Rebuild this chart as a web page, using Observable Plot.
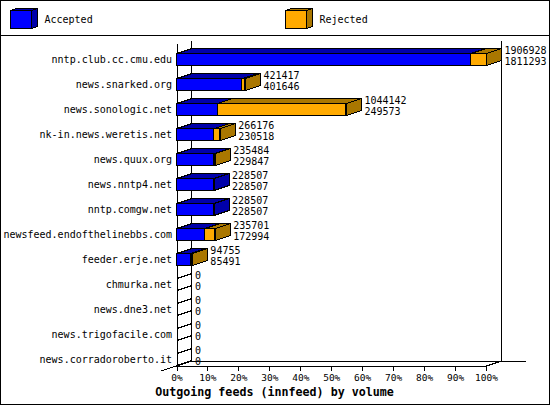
<!DOCTYPE html>
<html>
<head>
<meta charset="utf-8">
<script src="https://cdn.jsdelivr.net/npm/d3@7"></script>
<script src="https://cdn.jsdelivr.net/npm/@observablehq/plot@0.6"></script>
<style>
html,body{margin:0;padding:0;background:#fff}
#frame{position:relative;box-sizing:border-box;width:550px;height:405px;border:1px solid #000;overflow:hidden;font-family:"DejaVu Sans Mono","Liberation Mono",monospace;color:#000}
#legend{position:relative;height:34px;border-bottom:1px solid #000}
#legend span{position:absolute;top:12px;font-size:10px;line-height:14px}
#legend svg{position:absolute;top:7px;shape-rendering:crispEdges}
#chart svg{display:block;shape-rendering:crispEdges}
#title{position:absolute;left:0;width:547px;top:383px;text-align:center;font-weight:bold;font-size:11.67px;line-height:16px}
</style>
</head>
<body>
<div id="frame">
  <div id="legend"></div>
  <div id="chart"></div>
  <div id="title"></div>
</div>
<script>
const hosts = ["nntp.club.cc.cmu.edu","news.snarked.org","news.sonologic.net","nk-in.news.weretis.net","news.quux.org","news.nntp4.net","nntp.comgw.net","newsfeed.endofthelinebbs.com","feeder.erje.net","chmurka.net","news.dne3.net","news.trigofacile.com","news.corradoroberto.it"];
const rejected = [1906928,421417,1044142,266176,235484,228507,228507,235701,94755,0,0,0,0];
const accepted = [1811293,401646,249573,230518,229847,228507,228507,172994,85491,0,0,0,0];
const seriesNames = ["Accepted","Rejected"];
const tickValues = [0,10,20,30,40,50,60,70,80,90,100];
const titleText = "Outgoing feeds (innfeed) by volume";
const colors = {blue:"#0000ff",blueDark:"#0000aa",orange:"#ffaa00",orangeDark:"#aa7700"};

const maxValue = d3.max(rejected.concat(accepted));
const pct = v => v / maxValue * 100;
const depthX = 4.84, depthY = 0.2;      // 3-D depth in scale units
const rowTop = 0.26, rowBottom = 0.74;  // bar face within a row

const rows = hosts.map((host,i)=>({host,row:i,a:pct(accepted[i]),r:pct(rejected[i]),ra:rejected[i],aa:accepted[i]}));

function poly(list){
  return list.flatMap(p=>[...p.pts,p.pts[0]].map(([x,y])=>({id:p.id,x,y})));
}
const topFace = (x0,x1,r,id)=>({id,pts:[[x0,r+rowTop],[x1,r+rowTop],[x1+depthX,r+rowTop-depthY],[x0+depthX,r+rowTop-depthY]]});
const sideFace = (x,r,id)=>({id,pts:[[x,r+rowTop],[x,r+rowBottom],[x+depthX,r+rowBottom-depthY],[x+depthX,r+rowTop-depthY]]});

const active = rows.filter(d=>d.r>0);
const topsBlue = poly(active.map(d=>topFace(0,d.a,d.row,"t"+d.row)));
const topsOrange = poly(active.filter(d=>d.r>d.a).map(d=>topFace(d.a,d.r,d.row,"o"+d.row)));
const sidesBlue = poly(active.filter(d=>d.r<=d.a).map(d=>sideFace(d.a,d.row,"sb"+d.row)));
const sidesOrange = poly(active.filter(d=>d.r>d.a).map(d=>sideFace(d.r,d.row,"so"+d.row)));
const zeroEdges = rows.filter(d=>d.r===0).flatMap(d=>[rowTop,rowBottom].flatMap(f=>[
  {id:d.row+"-"+f,x:0,y:d.row+f},{id:d.row+"-"+f,x:depthX,y:d.row+f-depthY}]));

const floorFront = 12.76, floorBack = 12.56, wallBack = -0.24, wallFront = -0.14;
const frameLines = [
  [[0,wallFront],[0,floorFront]],
  [[depthX,wallBack],[depthX,floorBack]],
  [[100+depthX,wallBack],[100+depthX,floorBack]],
  [[0,floorFront],[100,floorFront]],
  [[depthX,floorBack],[112.7,floorBack]],
  [[-5.16,12.96],[depthX,floorBack]],
  [[100,floorFront],[100+depthX,floorBack]]
].flatMap((seg,i)=>seg.map(([x,y])=>({id:i,x,y})));

const labelOpts = {fontSize:10,textAnchor:"start",dx:3};
const chart = Plot.plot({
  width:548,height:348,
  marginTop:0,marginRight:0,marginLeft:0,marginBottom:18.5,
  style:{background:"transparent",fontFamily:'"DejaVu Sans Mono","Liberation Mono",monospace',overflow:"visible",color:"#000"},
  x:{domain:[0,100],range:[175.5,485],axis:null},
  y:{domain:[0,13],range:[10.5,335.5],axis:null},
  marks:[
    Plot.line(frameLines,{x:"x",y:"y",z:"id",stroke:"#000",strokeWidth:1}),
    Plot.line(zeroEdges,{x:"x",y:"y",z:"id",stroke:"#000",strokeWidth:1}),
    Plot.line(topsBlue,{x:"x",y:"y",z:"id",fill:colors.blueDark,stroke:"#000",strokeWidth:1}),
    Plot.line(topsOrange,{x:"x",y:"y",z:"id",fill:colors.orangeDark,stroke:"#000",strokeWidth:1}),
    Plot.line(sidesBlue,{x:"x",y:"y",z:"id",fill:colors.blueDark,stroke:"#000",strokeWidth:1}),
    Plot.line(sidesOrange,{x:"x",y:"y",z:"id",fill:colors.orangeDark,stroke:"#000",strokeWidth:1}),
    Plot.rect(active.filter(d=>d.r>d.a),{x1:"a",x2:"r",y1:d=>d.row+rowTop,y2:d=>d.row+rowBottom,fill:colors.orange,stroke:"#000",strokeWidth:1}),
    Plot.rect(active,{x1:0,x2:"a",y1:d=>d.row+rowTop,y2:d=>d.row+rowBottom,fill:colors.blue,stroke:"#000",strokeWidth:1}),
    Plot.text(rows,{x:0,y:d=>d.row+0.5,text:"host",textAnchor:"end",dx:-5,fontSize:10,fill:"#000"}),
    Plot.text(rows,{x:d=>Math.max(d.a,d.r)+depthX,y:d=>d.row+0.14,text:d=>String(d.ra),fill:"#000",...labelOpts}),
    Plot.text(rows,{x:d=>Math.max(d.a,d.r)+depthX,y:d=>d.row+0.58,text:d=>String(d.aa),fill:"#000",...labelOpts}),
    Plot.axisX(tickValues,{anchor:"bottom",tickSize:5,tickPadding:3,tickFormat:d=>d+"%",fontSize:9.5,label:null,stroke:"#000",fill:"#000"})
  ]
});
document.getElementById("chart").appendChild(chart);
document.getElementById("title").textContent = titleText;

const legend = document.getElementById("legend");
const swatch = (x,front,dark)=>`<svg style="left:${x}px" width="30" height="24" viewBox="0 0 30 24"><polygon points="0.5,2.5 6.5,0.5 27.5,0.5 21.5,2.5" fill="${dark}" stroke="#000"/><polygon points="21.5,2.5 27.5,0.5 27.5,18.5 21.5,20.5" fill="${dark}" stroke="#000"/><rect x="0.5" y="2.5" width="21" height="18" fill="${front}" stroke="#000"/></svg>`;
legend.innerHTML =
  swatch(9,colors.blue,colors.blueDark)+`<span style="left:43.5px">${seriesNames[0]}</span>`+
  swatch(284,colors.orange,colors.orangeDark)+`<span style="left:318.5px">${seriesNames[1]}</span>`;
</script>
</body>
</html>
